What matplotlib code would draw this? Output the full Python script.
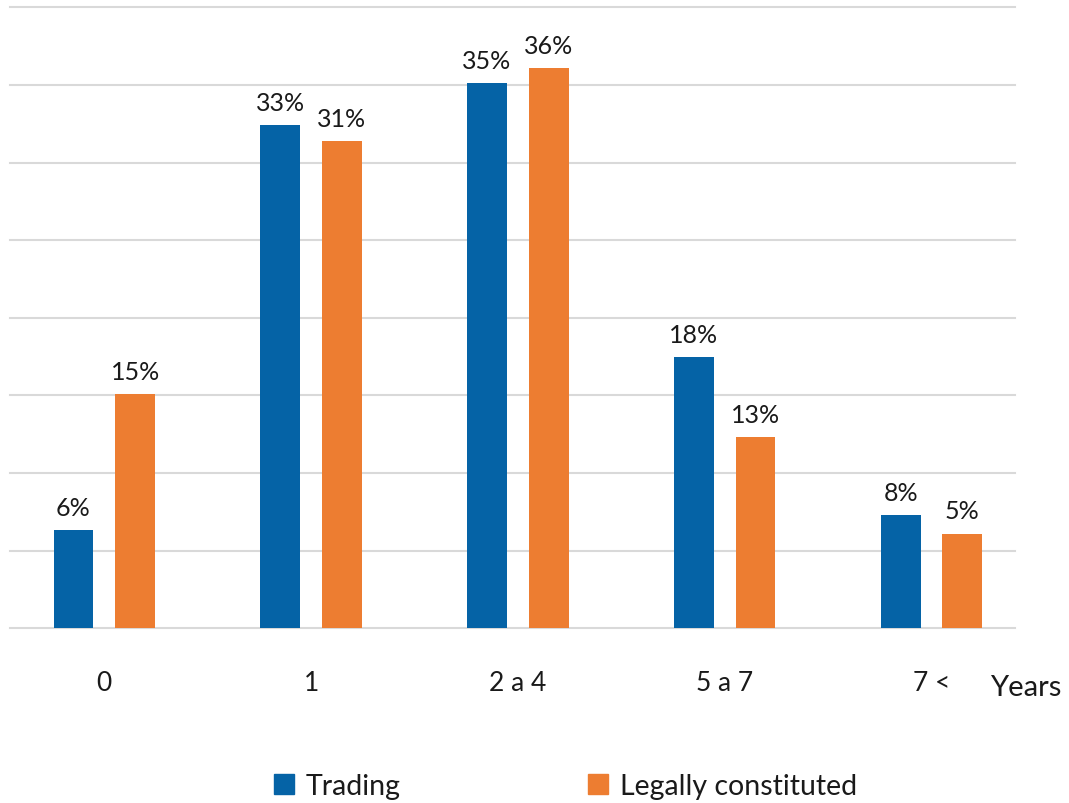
import matplotlib
matplotlib.use("Agg")
import matplotlib.pyplot as plt
import numpy as np
from matplotlib.patches import Patch

categories = ["0", "1", "2 a 4", "5 a 7", "7 <"]
series_names = ["Trading", "Legally constituted"]
trading = [6.3, 32.4, 35.1, 17.5, 7.3]
legal = [15.1, 31.4, 36.1, 12.3, 6.1]
trading_labels = ["6%", "33%", "35%", "18%", "8%"]
legal_labels = ["15%", "31%", "36%", "13%", "5%"]
yticks = [0, 5, 10, 15, 20, 25, 30, 35, 40]

BLUE = "#0563A6"
ORANGE = "#ED7D31"
GRID = "#D9D9D9"
FONT = "Lato"

plt.rcParams["font.family"] = [FONT, "DejaVu Sans"]

W, H = 1069, 804
fig = plt.figure(figsize=(W / 100, H / 100), dpi=100)
ax = fig.add_axes([10 / W, (H - 629.3) / H, (1015 - 10) / W, (629.3 - 8.3) / H])

x = np.arange(len(categories))
bw = 0.193
off = 0.149
b1 = ax.bar(x - off, trading, bw, color=BLUE, zorder=3)
b2 = ax.bar(x + off, legal, bw, color=ORANGE, zorder=3)

ax.bar_label(b1, labels=trading_labels, padding=8, fontsize=18, color="#1a1a1a")
ax.bar_label(b2, labels=legal_labels, padding=8, fontsize=18, color="#1a1a1a")

for yv in yticks:
    ax.axhline(yv, color=GRID, lw=1.5, zorder=1, clip_on=False)

ax.set_ylim(0, 40)
ax.set_xlim(-0.456, 4.404)
ax.set_yticks([])
ax.set_xticks(x, categories)
ax.tick_params(axis="x", length=0, pad=30, labelsize=19, labelcolor="#1a1a1a")
for s in ax.spines.values():
    s.set_visible(False)

fig.text(990 / W, 1 - 688 / H, "Years", fontsize=21, ha="left", va="center", color="#1a1a1a")

handles = [Patch(color=BLUE), Patch(color=ORANGE)]
fig.legend(handles, series_names, loc="center", bbox_to_anchor=(565.5 / W, 1 - 787 / H),
           ncol=2, frameon=False, fontsize=20.5, handlelength=0.7, handleheight=0.7,
           handletextpad=0.42, columnspacing=6.6, labelcolor="#1a1a1a")

fig.savefig("out.png", dpi=100, facecolor="white")
